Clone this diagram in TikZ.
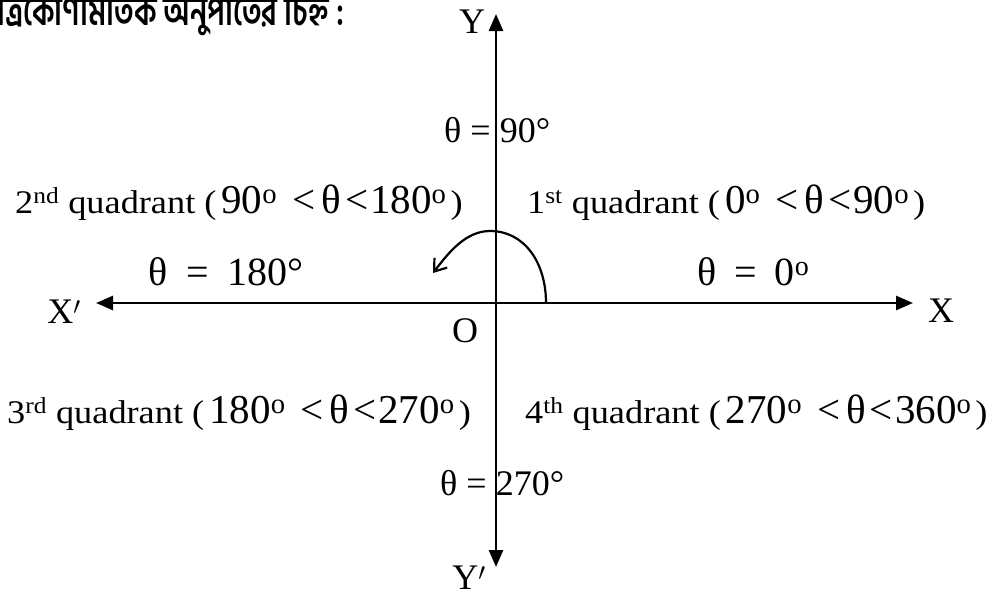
\documentclass[tikz,border=0pt]{standalone}
\usepackage{fontspec}
\usepackage{graphicx}
\setmainfont{Liberation Serif}
\newfontfamily\bn[Script=Bengali]{Hind Siliguri}
\newfontfamily\wideserif[FakeStretch=1.1]{Liberation Serif}
\usetikzlibrary{arrows.meta}
\newcommand{\myQT}{\wideserif\fontsize{33}{40}\selectfont}
\newcommand{\myQM}{\normalfont\fontsize{41}{46}\selectfont}
\newcommand{\myTE}{\fontsize{36}{42}\selectfont}
\newcommand{\myTB}{\fontsize{40}{46}\selectfont}
\newcommand{\myRange}[2]{(\hspace{5pt}\begingroup\myQM #1\textsuperscript{o}\hspace{15pt}<\hspace{6pt}θ\hspace{4pt}<\hspace{2pt}#2\textsuperscript{o}\endgroup\hspace{4pt})}
\begin{document}
\begin{tikzpicture}[x=1pt,y=-1pt,
  axis/.style={line width=2.6pt,-{Triangle[length=17pt,width=14pt]}},
  turn/.style={line width=2.2pt,-{Straight Barb[length=11pt,width=16pt,line width=2.2pt]}},
  lab/.style={inner sep=0pt,anchor=base west},
  axlab/.style={inner sep=0pt,font=\myTE}]
\useasboundingbox (0,0) rectangle (1000,589);
% axes
\coordinate (O) at (496,303);
\coordinate (Ytop) at (496,14);
\coordinate (Ybot) at (496,567);
\coordinate (Xl) at (96,303);
\coordinate (Xr) at (913,303);
\draw[axis] (O) -- (Ytop);
\draw[axis] (O) -- (Ybot);
\draw[axis] (O) -- (Xl);
\draw[axis] (O) -- (Xr);
% rotation arc
\coordinate (A0) at (546,303);
\coordinate (A1) at (490,231);
\coordinate (A2) at (433,273);
\draw[turn] (A0) .. controls (546,262) and (524,231) .. (A1)
                 .. controls (466,231) and (449,252) .. (A2);
% title
\node[lab] (title) at (-3,25) {\scalebox{1}[1.38]{\bn\bfseries\fontsize{29.5}{33}\selectfont ত্রিকোণমিতিক অনুপাতের চিহ্ন :}};
% axis labels
\node[axlab] (Y) at (472,22) {Y};
\node[axlab] (Yp) at (469,578) {Y$'$};
\node[axlab] (Xp) at (64,312) {X$'$};
\node[axlab] (X) at (941,311) {X};
\node[axlab] (Olab) at (465,331) {O};
% angle labels
\node[lab,font=\myTE] (t90) at (444,142) {θ = 90°};
\node[lab,font=\myTE] (t270) at (440,495) {θ = 270°};
\node[lab,font=\myTB] (t180) at (148,285) {θ\hspace{19pt}=\hspace{19pt}180°};
\node[lab,font=\myTB] (t0) at (697,285) {θ\hspace{18pt}=\hspace{18pt}0\textsuperscript{o}};
% quadrant labels
\node[lab,font=\myQT] (q2) at (15,213) {2\textsuperscript{nd} quadrant \myRange{90}{180}};
\node[lab,font=\myQT] (q1) at (527,213) {1\textsuperscript{st} quadrant \myRange{0}{90}};
\node[lab,font=\myQT] (q3) at (7,423) {3\textsuperscript{rd} quadrant \myRange{180}{270}};
\node[lab,font=\myQT] (q4) at (525,423) {4\textsuperscript{th} quadrant \myRange{270}{360}};
\end{tikzpicture}
\end{document}
